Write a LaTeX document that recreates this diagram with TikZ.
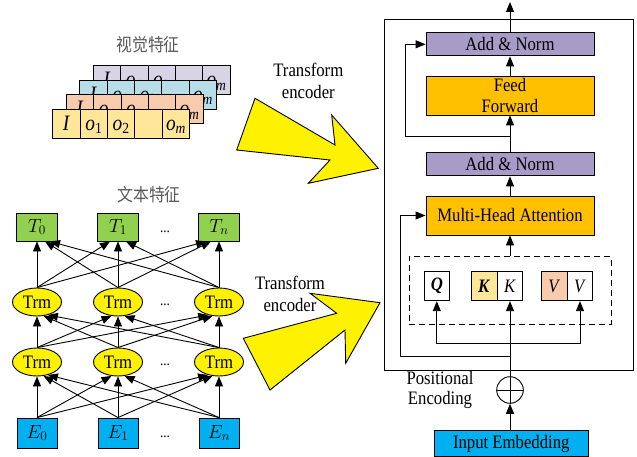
\RequirePackage{fix-cm}
\documentclass[tikz,border=0pt]{standalone}
\usepackage{fontspec}
\setmainfont{Liberation Serif}[FakeStretch=0.88]
\newfontfamily\cjk{Noto Sans CJK SC}[FakeStretch=0.88]
\usetikzlibrary{arrows.meta,shapes.geometric,calc}
\definecolor{tgreen}{HTML}{92D050}
\definecolor{eblue}{HTML}{00B0F0}
\definecolor{anpurple}{HTML}{A99BC8}
\definecolor{fforange}{HTML}{FFC000}
\definecolor{lyellow}{HTML}{FFE699}
\definecolor{lsalmon}{HTML}{F8CBAD}
\definecolor{lblue}{HTML}{B7DEE8}
\definecolor{lpurple}{HTML}{D9D3E6}
\definecolor{cjkgray}{HTML}{595959}
\tikzset{
  ln/.style={line width=0.9pt},
  arr/.style={ln,-{Triangle[length=10pt,width=8pt]}},
  txt/.style={font=\fontsize{19}{21.5}\selectfont, inner sep=0pt, align=center},
  cjktxt/.style={font=\cjk\fontsize{18}{21}\selectfont, text=cjkgray, inner sep=0pt},
  cell/.style={draw, ln, minimum width=27.4pt, minimum height=29pt, inner sep=0pt},
  celltxt/.style={anchor=base, inner sep=0pt, font=\fontsize{22}{24}\selectfont},
  tbox/.style={draw, ln, fill=tgreen, minimum width=41pt, minimum height=28pt, inner sep=0pt, font=\fontsize{19}{21}\selectfont},
  ebox/.style={draw, ln, fill=eblue, minimum width=40pt, minimum height=30pt, inner sep=0pt, font=\fontsize{19}{21}\selectfont},
  trm/.style={draw, ln, ellipse, fill=yellow, minimum width=49pt, minimum height=28pt, inner sep=0pt, font=\fontsize{19}{21}\selectfont},
  dotsnode/.style={inner sep=0pt, font=\fontsize{15}{16}\selectfont},
  wide/.style={draw, ln, minimum width=168pt, inner sep=0pt, font=\fontsize{19}{21}\selectfont, align=center},
  qkv/.style={draw, ln, fill=white, minimum width=25.5pt, minimum height=29pt, inner sep=0pt, font=\fontsize{19}{21}\selectfont},
  bigarrow/.style={ln, fill=yellow, line join=miter}
}
\begin{document}
\begin{tikzpicture}[x=1pt,y=-1pt]
\useasboundingbox (0,0) rectangle (637,457);

% ---------- visual feature stack ----------
\node[cjktxt] (vt) at (148,45) {视觉特征};
\foreach \l/\c in {3/lpurple,2/lblue,1/lsalmon,0/lyellow}{
  \foreach \k/\t in {0/{\textit{I}},1/{\textit{o}\textsubscript{1}},2/{\textit{o}\textsubscript{2}},3/{},4/{\textit{o}\textsubscript{\textit{m}}}}{
    \node[cell, fill=\c] (c\l\k) at ({66.4+13.5*\l+27.4*\k}, {123.5-14.5*\l}) {};
    \node[celltxt] (t\l\k) at ({66.4+13.5*\l+27.4*\k}, {130.5-14.5*\l}) {\t};
  }
}

% ---------- text feature network ----------
\node[cjktxt] (wt) at (149,195) {文本特征};
\node[tbox] (T0) at (37,227) {$T_0$};
\node[tbox] (T1) at (118,227) {$T_1$};
\node[tbox] (T2) at (219,227) {$T_n$};
\node[trm] (U0) at (37,302) {Trm};
\node[trm] (U1) at (118,302) {Trm};
\node[trm] (U2) at (219,302) {Trm};
\node[trm] (L0) at (37,362) {Trm};
\node[trm] (L1) at (118,362) {Trm};
\node[trm] (L2) at (219,362) {Trm};
\node[ebox] (E0) at (37,433) {$E_0$};
\node[ebox] (E1) at (118,433) {$E_1$};
\node[ebox] (E2) at (219,433) {$E_n$};
\node[dotsnode] (d1) at (165,232) {...};
\node[dotsnode] (d2) at (165,305) {...};
\node[dotsnode] (d3) at (165,365) {...};
\node[dotsnode] (d4) at (165,437) {...};

\foreach \s/\t/\a in {0/0/270, 1/0/295, 2/0/310, 0/1/245, 1/1/270, 2/1/295, 0/2/230, 1/2/245, 2/2/270}{
  \draw[arr] (L\s.north) -- (U\t.\a);
  \draw[arr] (E\s.north) -- (L\t.\a);
}
\foreach \s/\t/\d in {0/0/0, 1/0/8, 2/0/13, 0/1/-8, 1/1/0, 2/1/8, 0/2/-13, 1/2/-8, 2/2/0}{
  \draw[arr] (U\s.north) -- ($(T\t.south)+(\d,0)$);
}

% ---------- big yellow arrows ----------
\draw[bigarrow] (236.7,150) -- (255,98.3) -- (335,145) -- (331.7,115) -- (378.3,168.3) -- (308.3,183.3) -- (330,160) -- cycle;
\draw[bigarrow] (243.3,338.3) -- (336.7,313.3) -- (310,293.3) -- (380,302.7) -- (345.7,363.3) -- (345,330) -- (270,390) -- cycle;
\node[txt] (te1) at (308.3,81) {Transform\\encoder};
\node[txt] (te2) at (290,294) {Transform\\encoder};

% ---------- encoder block ----------
\node[draw, ln, minimum width=249pt, minimum height=351pt, inner sep=0pt] (enc) at (508.5,194.5) {};
\node[wide, fill=anpurple, minimum height=23.3pt] (AN2) at (510,44.3) {Add \& Norm};
\node[wide, fill=fforange, minimum height=39pt] (FF) at (510,95.5) {Feed\\Forward};
\node[wide, fill=anpurple, minimum height=23.3pt] (AN1) at (510,164.3) {Add \& Norm};
\node[wide, fill=fforange, minimum height=39pt] (MHA) at (510,215.5) {Multi-Head Attention};
\node[draw, ln, dash pattern=on 6pt off 4pt, minimum width=202pt, minimum height=67.3pt, inner sep=0pt] (dbox) at (510,290.3) {};
\node[qkv] (Q) at (436.8,286.2) {\textbf{\textit{Q}}};
\node[qkv, fill=lyellow] (Ko) at (484.2,286.2) {\textbf{\textit{K}}};
\node[qkv] (Kw) at (510,286.2) {\textit{K}};
\node[qkv, fill=lsalmon] (Vo) at (554.4,286.2) {\textit{V}};
\node[qkv] (Vw) at (580,286.2) {\textit{V}};
\node[draw, ln, circle, minimum size=26.6pt, inner sep=0pt] (plus) at (510,390) {};
\draw[ln] (plus.north) -- (plus.south) (plus.west) -- (plus.east);
\node[txt, font=\fontsize{19}{20}\selectfont] (pe) at (440,390) {Positional\\Encoding};
\node[wide, fill=eblue, minimum width=154pt, minimum height=26pt] (IE) at (511.3,443.5) {Input Embedding};

\coordinate (out) at (510,2);
\coordinate (br) at (510,343.3);
\coordinate (s1) at (510,356.7);
\coordinate (s1l) at (400.7,356.7);
\coordinate (s2) at (510,136.7);
\coordinate (s2l) at (405.7,136.7);

\draw[arr] (IE.north -| plus) -- (plus);
\draw[arr] (plus) -- (Kw);
\draw[arr] (br) -| (Q);
\draw[arr] (br) -| (Vw);
\draw[arr] (s1) -- (s1l) |- (MHA.west);
\draw[arr] (dbox) -- (MHA);
\draw[arr] (MHA) -- (AN1);
\draw[arr] (AN1) -- (FF);
\draw[arr] (s2) -- (s2l) |- (AN2.west);
\draw[arr] (FF) -- (AN2);
\draw[arr] (AN2) -- (out);
\end{tikzpicture}
\end{document}
